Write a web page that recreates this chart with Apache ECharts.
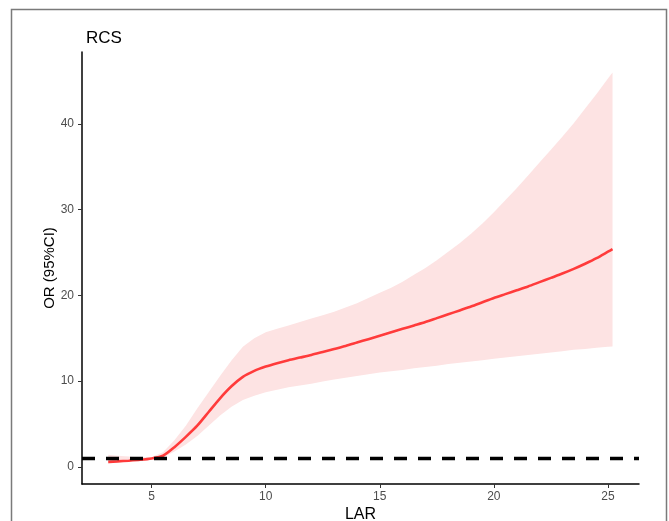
<!DOCTYPE html>
<html>
<head>
<meta charset="utf-8">
<script src="https://cdn.jsdelivr.net/npm/echarts@6/dist/echarts.min.js"></script>
<style>
html,body{margin:0;padding:0;background:#fff;}
#chart{width:669px;height:521px;}
</style>
</head>
<body>
<div id="chart"></div>
<script>
// LAR values
var lar = [3.1, 3.5, 4, 4.5, 5, 5.5, 6, 6.5, 7, 7.5, 8, 8.5, 9, 9.5, 10, 10.5, 11, 11.5, 12, 12.5, 13, 13.5, 14, 14.5, 15, 15.5, 16, 16.5, 17, 17.5, 18, 18.5, 19, 19.5, 20, 20.5, 21, 21.5, 22, 22.5, 23, 23.5, 24, 24.5, 25, 25.2];
// OR estimate
var orFit = [0.58, 0.64, 0.72, 0.82, 0.98, 1.3, 2.3, 3.5, 4.8, 6.4, 8.0, 9.4, 10.5, 11.2, 11.7, 12.1, 12.45, 12.75, 13.05, 13.4, 13.75, 14.1, 14.5, 14.9, 15.3, 15.7, 16.1, 16.5, 16.9, 17.35, 17.8, 18.25, 18.7, 19.2, 19.7, 20.15, 20.6, 21.05, 21.55, 22.05, 22.55, 23.1, 23.7, 24.35, 25.1, 25.4];
// 95% CI upper
var ciUpper = [1.4, 1.3, 1.2, 1.1, 1.15, 1.7, 3.1, 4.8, 6.8, 8.7, 10.6, 12.4, 14.0, 15.0, 15.7, 16.1, 16.5, 16.9, 17.3, 17.7, 18.1, 18.6, 19.1, 19.7, 20.3, 20.9, 21.6, 22.4, 23.2, 24.1, 25.1, 26.1, 27.2, 28.4, 29.7, 31.1, 32.5, 34.0, 35.5, 37.0, 38.5, 40.1, 41.8, 43.5, 45.3, 46.0];
// 95% CI lower
var ciLower = [0.4, 0.5, 0.6, 0.72, 0.88, 1.1, 1.8, 2.6, 3.6, 4.8, 6.0, 7.0, 7.8, 8.3, 8.7, 9.0, 9.3, 9.5, 9.7, 9.95, 10.2, 10.4, 10.6, 10.8, 11.0, 11.15, 11.3, 11.5, 11.65, 11.8, 12.0, 12.15, 12.3, 12.45, 12.6, 12.75, 12.9, 13.05, 13.2, 13.35, 13.5, 13.65, 13.75, 13.9, 14.0, 14.05];
// reference line
var refOR = 1;
var xTicks = [5, 10, 15, 20, 25];
var yTicks = [0, 10, 20, 30, 40];

var chart = echarts.init(document.getElementById('chart'), null, {renderer: 'canvas'});
var fontFam = '"Liberation Sans", Arial, Helvetica, sans-serif';

var bandData = lar.map(function (x, i) { return [x, ciLower[i], ciUpper[i]]; });

var option = {
  backgroundColor: '#fff',
  animation: false,
  textStyle: {fontFamily: fontFam},
  title: {
    text: 'RCS', left: 81, top: 25,
    textStyle: {fontSize: 17, fontWeight: 'normal', color: '#000', fontFamily: fontFam}
  },
  graphic: [{
    type: 'rect', silent: true, z: -1,
    shape: {x: 11.5, y: 9.5, width: 655, height: 530},
    style: {fill: 'none', stroke: '#7a7a7a', lineWidth: 1.5}
  }],
  grid: {left: 82, right: 30, top: 52, bottom: 37, containLabel: false, outerBoundsMode: 'none'},
  xAxis: {
    type: 'value', min: 1.95, max: 26.36, interval: 5,
    name: 'LAR', nameLocation: 'middle', nameGap: 23, nameMoveOverlap: false,
    nameTextStyle: {fontSize: 16, color: '#000', fontFamily: fontFam},
    axisLine: {show: true, onZero: false, lineStyle: {color: '#000', width: 1.5}},
    axisTick: {show: true, length: 4, lineStyle: {color: '#333', width: 1}, customValues: xTicks},
    axisLabel: {margin: 7, fontSize: 12, color: '#4d4d4d', customValues: xTicks, fontFamily: fontFam},
    splitLine: {show: false}
  },
  yAxis: {
    type: 'value', min: -2, max: 48.4, interval: 10,
    name: 'OR (95%CI)', nameLocation: 'middle', nameGap: 25, nameMoveOverlap: false,
    nameTextStyle: {fontSize: 15, color: '#000', fontFamily: fontFam},
    axisLine: {show: true, onZero: false, lineStyle: {color: '#000', width: 1.5}},
    axisTick: {show: true, length: 4, lineStyle: {color: '#333', width: 1}, customValues: yTicks},
    axisLabel: {margin: 8, fontSize: 12, color: '#4d4d4d', customValues: yTicks, fontFamily: fontFam},
    splitLine: {show: false}
  },
  series: [
    {
      type: 'custom',
      data: bandData,
      encode: {x: 0, y: [1, 2]},
      z: 1,
      renderItem: function (params, api) {
        if (params.dataIndex !== 0) return null;
        var pts = [];
        for (var i = 0; i < bandData.length; i++) pts.push(api.coord([bandData[i][0], bandData[i][2]]));
        for (var j = bandData.length - 1; j >= 0; j--) pts.push(api.coord([bandData[j][0], bandData[j][1]]));
        return {
          type: 'polygon',
          shape: {points: pts},
          style: {fill: '#fde3e3', stroke: 'none'}
        };
      }
    },
    {
      type: 'line',
      data: lar.map(function (x, i) { return [x, orFit[i]]; }),
      smooth: 0.25,
      showSymbol: false,
      z: 3,
      lineStyle: {color: '#ff3b3b', width: 2.6},
      markLine: {
        silent: true, symbol: 'none', z: 4,
        label: {show: false},
        lineStyle: {color: '#000', type: [13, 11], width: 3.4},
        data: [{yAxis: refOR}]
      }
    }
  ]
};
chart.setOption(option);
</script>
</body>
</html>
